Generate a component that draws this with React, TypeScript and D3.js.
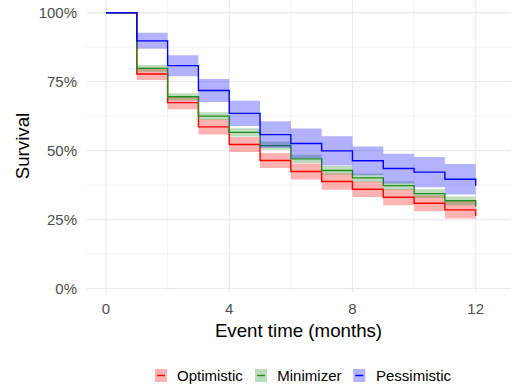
import React from "react";
import * as d3 from "d3";

const months = [0, 1, 2, 3, 4, 5, 6, 7, 8, 9, 10, 11, 12];

const optimistic = [1, 0.778, 0.674, 0.586, 0.522, 0.464, 0.424, 0.388, 0.36, 0.331, 0.309, 0.285, 0.263];
const optimisticLo = [1, 0.756, 0.65, 0.558, 0.495, 0.437, 0.395, 0.358, 0.332, 0.302, 0.28, 0.254, 0.232];
const optimisticHi = [1, 0.8, 0.698, 0.614, 0.549, 0.491, 0.453, 0.418, 0.388, 0.36, 0.338, 0.316, 0.294];

const minimizer = [1, 0.798, 0.695, 0.625, 0.566, 0.518, 0.47, 0.428, 0.401, 0.373, 0.344, 0.318, 0.296];
const minimizerLo = [1, 0.786, 0.682, 0.611, 0.551, 0.503, 0.455, 0.412, 0.385, 0.357, 0.328, 0.302, 0.28];
const minimizerHi = [1, 0.81, 0.708, 0.639, 0.581, 0.533, 0.485, 0.444, 0.417, 0.389, 0.36, 0.334, 0.312];

const pessimistic = [1, 0.898, 0.808, 0.718, 0.635, 0.558, 0.526, 0.499, 0.463, 0.435, 0.422, 0.396, 0.373];
const pessimisticLo = [1, 0.869, 0.77, 0.676, 0.589, 0.51, 0.472, 0.446, 0.411, 0.381, 0.367, 0.341, 0.318];
const pessimisticHi = [1, 0.927, 0.846, 0.76, 0.681, 0.606, 0.58, 0.552, 0.515, 0.489, 0.477, 0.451, 0.428];

const seriesNames = ["Optimistic", "Minimizer", "Pessimistic"];
const seriesColors = ["#FF0000", "#228B22", "#0000FF"];

const xMajor = [0, 4, 8, 12];
const xMinor = [2, 6, 10];
const yMajor = [0, 0.25, 0.5, 0.75, 1];
const yMinor = [0.125, 0.375, 0.625, 0.875];

const W = 517;
const H = 390;
const panel = { left: 86, right: 511, top: 0, bottom: 292 };

export default function App() {
  const x = d3.scaleLinear().domain([0, 12]).range([106, 475.7]);
  const y = d3.scaleLinear().domain([0, 1]).range([288.5, 12.7]);
  const pct = d3.format(".0%");
  const font = "'Liberation Sans', Arial, Helvetica, sans-serif";

  const series = [
    { name: seriesNames[0], color: seriesColors[0], v: optimistic, lo: optimisticLo, hi: optimisticHi },
    { name: seriesNames[1], color: seriesColors[1], v: minimizer, lo: minimizerLo, hi: minimizerHi },
    { name: seriesNames[2], color: seriesColors[2], v: pessimistic, lo: pessimisticLo, hi: pessimisticHi },
  ];

  const line = d3
    .line<number>()
    .x((_, i) => x(months[i]))
    .y((d) => y(d))
    .curve(d3.curveStepAfter);

  const legendPos = [
    { key: 155, text: 177 },
    { key: 255, text: 277.3 },
    { key: 353.3, text: 376 },
  ];

  return (
    <svg width={W} height={H} style={{ position: "absolute", left: 0, top: 0, background: "#fff" }} fontFamily={font}>
      <rect x={0} y={0} width={W} height={H} fill="#fff" />
      {/* grid */}
      <g stroke="#EBEBEB" fill="none">
        {yMinor.map((v) => (
          <line key={"ym" + v} x1={panel.left} x2={panel.right} y1={y(v)} y2={y(v)} strokeWidth={0.6} />
        ))}
        {xMinor.map((v) => (
          <line key={"xm" + v} x1={x(v)} x2={x(v)} y1={panel.top} y2={panel.bottom} strokeWidth={0.6} />
        ))}
        {yMajor.map((v) => (
          <line key={"yM" + v} x1={panel.left} x2={panel.right} y1={y(v)} y2={y(v)} strokeWidth={1.2} />
        ))}
        {xMajor.map((v) => (
          <line key={"xM" + v} x1={x(v)} x2={x(v)} y1={panel.top} y2={panel.bottom} strokeWidth={1.2} />
        ))}
      </g>
      {/* series */}
      {series.map((s) => {
        const area = d3
          .area<number>()
          .x((_, i) => x(months[i]))
          .y0((_, i) => y(s.lo[i]))
          .y1((_, i) => y(s.hi[i]))
          .curve(d3.curveStepAfter);
        return (
          <g key={s.name}>
            <path d={area(s.v) || ""} fill={s.color} fillOpacity={0.3} stroke="none" />
            <path d={line(s.v) || ""} fill="none" stroke={s.color} strokeWidth={1.4} />
          </g>
        );
      })}
      {/* y axis labels */}
      {yMajor.map((v) => (
        <text key={"yl" + v} x={77} y={y(v)} dy="0.36em" textAnchor="end" fontSize={15} fill="#4D4D4D">
          {pct(v)}
        </text>
      ))}
      {/* x axis labels */}
      {xMajor.map((v) => (
        <text key={"xl" + v} x={x(v)} y={313.5} textAnchor="middle" fontSize={15} fill="#4D4D4D">
          {v}
        </text>
      ))}
      <text x={298.5} y={336.5} textAnchor="middle" fontSize={18.7} fill="#000">
        Event time (months)
      </text>
      <text transform={`translate(29,146) rotate(-90)`} textAnchor="middle" fontSize={18.7} fill="#000">
        Survival
      </text>
      {/* legend */}
      {series.map((s, i) => (
        <g key={"lg" + s.name}>
          <rect x={legendPos[i].key} y={369} width={12} height={13} fill={s.color} fillOpacity={0.3} />
          <line
            x1={legendPos[i].key + 2}
            x2={legendPos[i].key + 10}
            y1={375.5}
            y2={375.5}
            stroke={s.color}
            strokeWidth={1.4}
          />
          <text x={legendPos[i].text} y={381} fontSize={15} fill="#000">
            {s.name}
          </text>
        </g>
      ))}
    </svg>
  );
}
